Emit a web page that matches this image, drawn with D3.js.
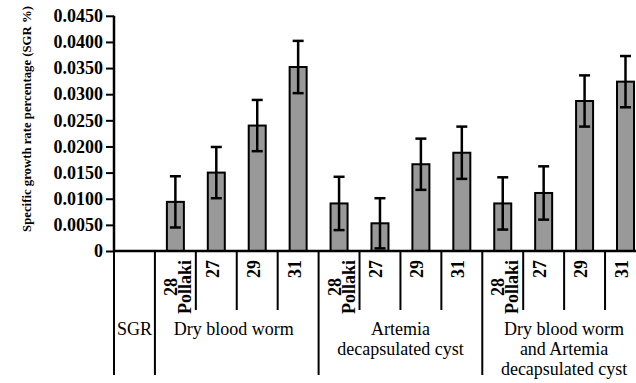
<!DOCTYPE html>
<html><head><meta charset="utf-8">
<script src="https://cdn.jsdelivr.net/npm/d3@7"></script>
<style>
html,body{margin:0;padding:0;background:#fff;}
svg{display:block;}
</style></head>
<body>
<svg id="c" width="636" height="383" font-family="Times, Tinos, serif"></svg>
<script>
// ---- data ----
const categories = ["SGR","DBW 28","DBW 27","DBW 29","DBW 31","ART 28","ART 27","ART 29","ART 31","MIX 28","MIX 27","MIX 29","MIX 31"];
const subLabels = ["", "28|Pollaki","27","29","31","28|Pollaki","27","29","31","28|Pollaki","27","29","31"];
const values = [null, 0.0094, 0.0150, 0.0240, 0.0352, 0.0091, 0.0053, 0.0166, 0.0188, 0.0091, 0.0111, 0.0287, 0.0324];
const errors = [null, 0.0049, 0.0049, 0.0049, 0.0050, 0.0051, 0.0048, 0.0049, 0.0050, 0.0050, 0.0051, 0.0049, 0.0049];
const groupNames = ["SGR","Dry blood worm","Artemia|decapsulated cyst","Dry blood worm|and Artemia|decapsulated cyst"];
const groupStart = [0, 1, 5, 9];
const groupSize = [1, 4, 4, 4];
const tickValues = [0,0.005,0.010,0.015,0.020,0.025,0.030,0.035,0.040,0.045];
const yTitle = "Specific growth rate percentage (SGR %)";

// ---- chart ----
const FONT = "Times, Tinos, serif";
const svg = d3.select("#c");
const x0 = 114, slotW = 40.92;
const x = d3.scaleBand().domain(categories).range([x0, x0 + slotW*categories.length]).padding(0);
const y = d3.scaleLinear().domain([0, 0.045]).range([251, 15.8]);
const bw = x.bandwidth();
const barW = 17;

// bars
const data = categories.map((c,i)=>({c, v: values[i], e: errors[i]})).filter(d=>d.v!=null);
svg.append("g").selectAll("rect").data(data).join("rect")
  .attr("x", d=>x(d.c)+(bw-barW)/2)
  .attr("y", d=>y(d.v))
  .attr("width", barW)
  .attr("height", d=>y(0)-y(d.v))
  .attr("fill","#999999").attr("stroke","#000").attr("stroke-width",2);

// error bars
const eg = svg.append("g").attr("stroke","#000").attr("stroke-width",2.5);
data.forEach(d=>{
  const cx = x(d.c)+bw/2;
  eg.append("line").attr("x1",cx).attr("x2",cx).attr("y1",y(d.v-d.e)).attr("y2",y(d.v+d.e));
  eg.append("line").attr("x1",cx-5.5).attr("x2",cx+5.5).attr("y1",y(d.v+d.e)).attr("y2",y(d.v+d.e));
  eg.append("line").attr("x1",cx-5.5).attr("x2",cx+5.5).attr("y1",y(d.v-d.e)).attr("y2",y(d.v-d.e));
});

// y axis
const yAxis = d3.axisLeft(y).tickValues(tickValues).tickSize(8).tickPadding(3)
  .tickFormat(v=> v===0 ? "0" : v.toFixed(4));
const ga = svg.append("g").attr("transform",`translate(${x0},0)`).call(yAxis)
  .attr("font-family",FONT).attr("font-size",18);
ga.select(".domain").attr("stroke","#000").attr("stroke-width",2.5).attr("d",`M-0,${y(0.045)}V${y(0)}`);
ga.selectAll(".tick line").attr("stroke","#000").attr("stroke-width",2);
ga.selectAll(".tick text").attr("font-family",FONT).attr("font-size",18).attr("font-weight","bold").attr("fill","#000");

// x baseline
svg.append("line").attr("x1",x0-1).attr("x2",x.range()[1]).attr("y1",y(0)).attr("y2",y(0))
  .attr("stroke","#000").attr("stroke-width",2.5);

// category separator lines
const longIdx = new Set(groupStart);
categories.forEach((c,i)=>{
  const xl = x(c);
  svg.append("line").attr("x1",xl).attr("x2",xl).attr("y1",y(0)).attr("y2", longIdx.has(i)?375:310)
    .attr("stroke","#000").attr("stroke-width",2);
});

// rotated sub-labels
categories.forEach((c,i)=>{
  if(!subLabels[i]) return;
  const lines = subLabels[i].split("|");
  const cx = x(c)+bw/2;
  const g = svg.append("g");
  const texts = lines.map(ln=> g.append("text").text(ln)
      .attr("font-family",FONT).attr("font-size",18).attr("font-weight","bold")
      .attr("text-anchor","middle").attr("fill","#000"));
  const maxLen = d3.max(texts, t=>t.node().getComputedTextLength());
  const cy = 260 + maxLen/2;
  texts.forEach((t,k)=>{
    const bx = lines.length>1 ? cx + 1.5 + k*14 : cx + 2.5;
    t.attr("transform",`translate(${bx},${cy}) rotate(-90)`);
  });
});

// group labels
groupNames.forEach((gname,gi)=>{
  const xs = x(categories[groupStart[gi]]);
  const xe = xs + groupSize[gi]*bw;
  const lines = gname.split("|");
  lines.forEach((ln,k)=>{
    svg.append("text").attr("x",(xs+xe)/2 + (gi===1?-3:0)).attr("y",335+k*20)
      .attr("text-anchor","middle").attr("font-family",FONT).attr("font-size",18)
      .attr("fill","#000").text(ln);
  });
});

// y title (font size fitted so the title spans ~228px like the reference)
const yt = svg.append("text").attr("transform","translate(31,119) rotate(-90)")
  .attr("text-anchor","middle").attr("font-family",FONT).attr("font-size",14)
  .attr("font-weight","bold").attr("fill","#000").text(yTitle);
const natural = yt.node().getComputedTextLength();
yt.attr("font-size", Math.min(14, 14*226/natural));
</script>
</body></html>
